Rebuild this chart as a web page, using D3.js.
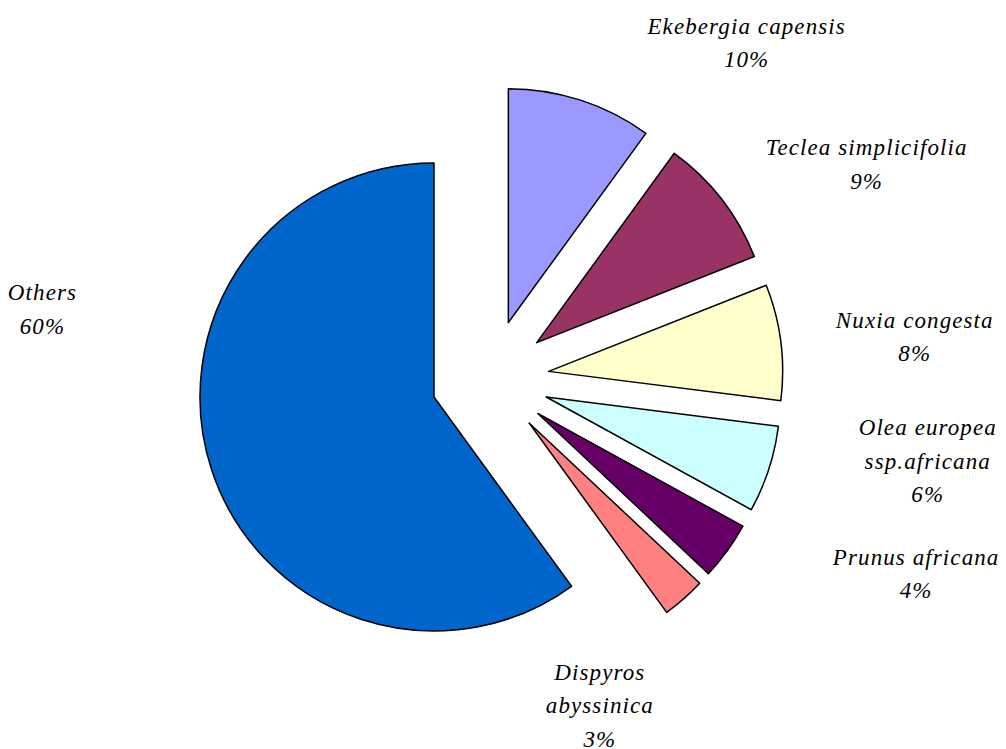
<!DOCTYPE html>
<html><head><meta charset="utf-8">
<script src="https://cdn.jsdelivr.net/npm/d3@7"></script>
<style>body{margin:0;background:#fff;} svg{display:block;}</style>
</head><body>
<svg id="chart" width="1006" height="749"></svg>
<script>
// Data
const species = ["Others","Ekebergia capensis","Teclea simplicifolia","Nuxia congesta","Olea europea ssp.africana","Prunus africana","Dispyros abyssinica"];
const labelLines = [["Others"],["Ekebergia capensis"],["Teclea simplicifolia"],["Nuxia congesta"],["Olea europea","ssp.africana"],["Prunus africana"],["Dispyros","abyssinica"]];
const percents = [60,10,9,8,6,4,3];
const colors = ["#0066CC","#9999FF","#993366","#FFFFCC","#CCFFFF","#660066","#FF8080"];
const exploded = [false,true,true,true,true,true,true];
// label offsets from each slice's outer mid-point (layout)
const labelOffsets = [[-169,-160],[166,-57],[145,-35],[134,-5],[159,-8],[189,23],[-84,107]];

const svg = d3.select("#chart");
const cx = 434, cy = 397, R = 234, explode = 59, lineH = 33.5, fontSize = 23;

// order: slices clockwise from 12 o'clock: Ekebergia..Dispyros, then Others
const order = [1,2,3,4,5,6,0];
const pie = d3.pie().sort(null).value(i => percents[i]).startAngle(0).endAngle(2*Math.PI);
const arcs = pie(order);
const arc = d3.arc().innerRadius(0).outerRadius(R);

const grp = arcs.filter(a => exploded[a.data]);
const gMid = (grp[0].startAngle + grp[grp.length-1].endAngle)/2;
const dir = a => [Math.sin(a), -Math.cos(a)];

arcs.forEach(a => {
  const i = a.data;
  let ox = 0, oy = 0;
  if (exploded[i]) {
    const m = (a.startAngle + a.endAngle)/2;
    const d1 = dir(gMid), d2 = dir(m);
    ox = explode*(d1[0]+d2[0]); oy = explode*(d1[1]+d2[1]);
  }
  const g = svg.append("g").attr("transform", `translate(${cx+ox},${cy+oy})`);
  g.append("path").attr("d", arc(a)).attr("fill", colors[i])
    .attr("stroke", "#000").attr("stroke-width", 1.5).attr("stroke-linejoin","round");
  const m = (a.startAngle + a.endAngle)/2;
  const p = dir(m);
  const lx = cx + ox + R*p[0] + labelOffsets[i][0];
  const ly = cy + oy + R*p[1] + labelOffsets[i][1];
  const lines = labelLines[i].concat([percents[i] + "%"]);
  const n = lines.length;
  const t = svg.append("text").attr("text-anchor","middle")
    .attr("font-family","'Liberation Serif', 'Times New Roman', serif")
    .attr("font-style","italic").attr("font-size", fontSize)
    .attr("letter-spacing", 1.1).attr("fill","#000");
  lines.forEach((s, k) => {
    t.append("tspan").attr("x", lx).attr("y", ly + (k - (n-1)/2)*lineH + fontSize*0.33).text(s);
  });
});
</script>
</body></html>
